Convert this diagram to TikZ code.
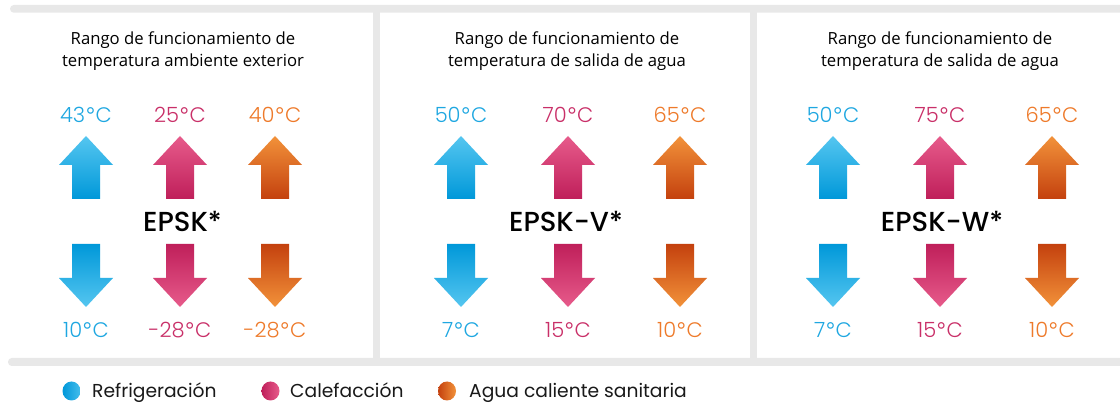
\documentclass[tikz,border=0pt]{standalone}
\usepackage{fontspec}
\setmainfont{Open Sans}
\IfFontExistsTF{Poppins Light}{\newfontfamily\tempfont{Poppins Light}}{%
 \IfFontExistsTF{Poppins-Light.ttf}{\newfontfamily\tempfont{Poppins-Light.ttf}}{%
  \IfFontExistsTF{Poppins-Light.otf}{\newfontfamily\tempfont{Poppins-Light.otf}}{\newfontfamily\tempfont{Poppins}}}}
\IfFontExistsTF{Poppins Medium}{\newfontfamily\modelfont{Poppins Medium}}{%
 \IfFontExistsTF{Poppins SemiBold}{\newfontfamily\modelfont{Poppins SemiBold}}{\newfontfamily\modelfont{Poppins}[FakeBold=1.5]}}
\newfontfamily\legfont{Poppins}
\newfontfamily\degfont{Open Sans}
\definecolor{barc}{HTML}{E8E8E8}
\definecolor{cyanT}{HTML}{1EA7E1}
\definecolor{pinkT}{HTML}{C92F68}
\definecolor{orgT}{HTML}{EE7A2A}
\definecolor{cyanL}{HTML}{55C6F0}
\definecolor{cyanD}{HTML}{0098D9}
\definecolor{pinkL}{HTML}{E75B8B}
\definecolor{pinkD}{HTML}{BF1F5A}
\definecolor{orgL}{HTML}{F2923A}
\definecolor{orgD}{HTML}{C4410E}
\newcommand\dg{\kern0.5pt\raisebox{-0.6pt}{\degfont\fontsize{22}{22}\selectfont °}\kern0.5pt}
\newcommand\myUp[3]{\shade[top color=#2,bottom color=#3] (#1,136) -- (#1+27,165) -- (#1+14,165) -- (#1+14,199) -- (#1-14,199) -- (#1-14,165) -- (#1-27,165) -- cycle;}
\newcommand\myDown[3]{\shade[top color=#3,bottom color=#2] (#1-14,244) -- (#1+14,244) -- (#1+14,278) -- (#1+27,278) -- (#1,307) -- (#1-27,278) -- (#1-14,278) -- cycle;}
\begin{document}
\begin{tikzpicture}[x=1pt,y=-1pt,
  temp/.style={font=\tempfont\fontsize{21}{24}\selectfont, anchor=base, inner sep=0pt},
  model/.style={font=\modelfont\fontsize{27.5}{30}\selectfont, anchor=base, inner sep=0pt},
  title/.style={font=\fontsize{16.7}{23}\selectfont, anchor=base, inner sep=0pt, text=black},
  leg/.style={font=\legfont\fontsize{18.7}{20}\selectfont, anchor=base west, inner sep=0pt, text=black!90}]
\useasboundingbox (0,0) rectangle (1120,403);
\fill[white] (0,0) rectangle (1120,403);
% frame bars
\fill[barc, rounded corners=3.8pt] (10,5) rectangle (1135,12.7);
\fill[barc, rounded corners=3.8pt] (8,358) rectangle (1135,366);
\fill[barc] (373,12) rectangle (380,358);
\fill[barc] (750,12) rectangle (757,358);
% titles
\node[title] (t1a) at (183,45) {Rango de funcionamiento de};
\node[title] (t1b) at (183,67) {temperatura ambiente exterior};
\node[title] (t2a) at (567,45) {Rango de funcionamiento de};
\node[title] (t2b) at (567,67) {temperatura de salida de agua};
\node[title] (t3a) at (940,45) {Rango de funcionamiento de};
\node[title] (t3b) at (940,67) {temperatura de salida de agua};
% panel 1
\node[temp, text=cyanT] (p1c1) at (86,123) {43\dg C};
\node[temp, text=pinkT] (p1p1) at (180,123) {25\dg C};
\node[temp, text=orgT] (p1o1) at (275,123) {40\dg C};
\myUp{86}{cyanL}{cyanD}\myUp{180}{pinkL}{pinkD}\myUp{275}{orgL}{orgD}
\node[model] (m1) at (182.5,232) {EPSK*};
\myDown{86}{cyanL}{cyanD}\myDown{180}{pinkL}{pinkD}\myDown{275}{orgL}{orgD}
\node[temp, text=cyanT] (p1c2) at (86,338) {10\dg C};
\node[temp, text=pinkT] (p1p2) at (180,338) {-28\dg C};
\node[temp, text=orgT] (p1o2) at (275,338) {-28\dg C};
% panel 2
\node[temp, text=cyanT] (p2c1) at (461,123) {50\dg C};
\node[temp, text=pinkT] (p2p1) at (568,123) {70\dg C};
\node[temp, text=orgT] (p2o1) at (680,123) {65\dg C};
\myUp{461}{cyanL}{cyanD}\myUp{568}{pinkL}{pinkD}\myUp{680}{orgL}{orgD}
\node[model] (m2) at (566,232) {EPSK-V*};
\myDown{461}{cyanL}{cyanD}\myDown{568}{pinkL}{pinkD}\myDown{680}{orgL}{orgD}
\node[temp, text=cyanT] (p2c2) at (461,338) {7\dg C};
\node[temp, text=pinkT] (p2p2) at (568,338) {15\dg C};
\node[temp, text=orgT] (p2o2) at (680,338) {10\dg C};
% panel 3
\node[temp, text=cyanT] (p3c1) at (833,123) {50\dg C};
\node[temp, text=pinkT] (p3p1) at (940,123) {75\dg C};
\node[temp, text=orgT] (p3o1) at (1052,123) {65\dg C};
\myUp{833}{cyanL}{cyanD}\myUp{940}{pinkL}{pinkD}\myUp{1052}{orgL}{orgD}
\node[model] (m3) at (942,232) {EPSK-W*};
\myDown{833}{cyanL}{cyanD}\myDown{940}{pinkL}{pinkD}\myDown{1052}{orgL}{orgD}
\node[temp, text=cyanT] (p3c2) at (833,338) {7\dg C};
\node[temp, text=pinkT] (p3p2) at (940,338) {15\dg C};
\node[temp, text=orgT] (p3o2) at (1052,338) {10\dg C};
% legend
\shade[left color=cyanD, right color=cyanL!80!cyanD] (71.5,391) ellipse (9 and 9.5);
\node[leg] (l1) at (92,398) {Refrigeración};
\shade[left color=pinkD, right color=pinkL] (270.5,391) ellipse (9 and 9.5);
\node[leg] (l2) at (290,398) {Calefacción};
\shade[left color=orgD, right color=orgL] (447,391) ellipse (9 and 9.5);
\node[leg] (l3) at (469,398) {Agua caliente sanitaria};
\end{tikzpicture}
\end{document}
